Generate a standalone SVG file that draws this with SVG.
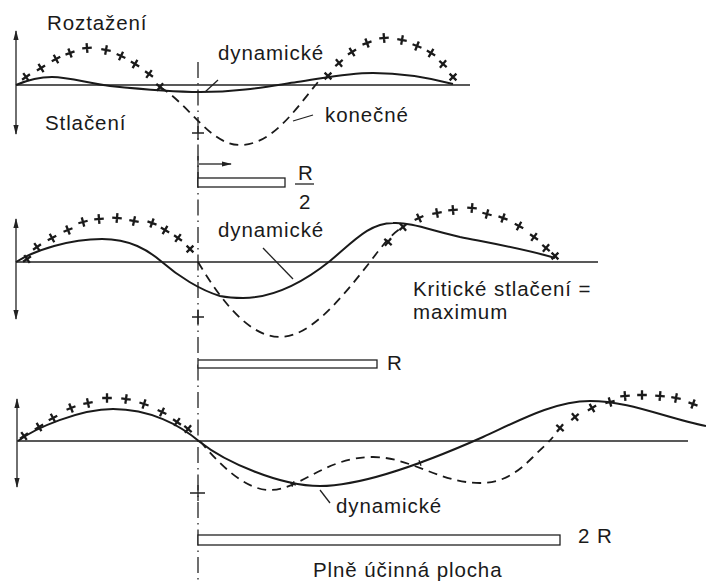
<svg xmlns="http://www.w3.org/2000/svg" width="706" height="581" viewBox="0 0 706 581">
<style>
  .bg{fill:#fff}
  .t{font-family:"Liberation Sans",Arial,sans-serif;font-size:20.5px;letter-spacing:0.9px;fill:#1a1a1a}
  .base{stroke:#222;stroke-width:1.3;fill:none}
  .axis{stroke:#222;stroke-width:1.3;fill:none}
  .dyn{stroke:#1a1a1a;stroke-width:2;fill:none}
  .fin{stroke:#1a1a1a;stroke-width:1.8;fill:none;stroke-dasharray:9 6}
  .cdot{stroke:#222;stroke-width:1.3;fill:none;stroke-dasharray:16 5 1.5 5}
  .lead{stroke:#222;stroke-width:1.3;fill:none}
  .bar{stroke:#222;stroke-width:1.3;fill:#fff}
  .xx{stroke:#1a1a1a;stroke-width:2.3;fill:none}
</style>
<defs>
  <marker id="ah" viewBox="0 0 10 10" refX="9" refY="5" markerWidth="10" markerHeight="10" orient="auto-start-reverse" markerUnits="userSpaceOnUse">
    <path d="M0,2.4 L10,5 L0,7.6 Z" fill="#222"/>
  </marker>
  <marker id="ah2" viewBox="0 0 10 10" refX="9" refY="5" markerWidth="10" markerHeight="10" orient="auto" markerUnits="userSpaceOnUse">
    <path d="M0,2.6 L10,5 L0,7.4 Z" fill="#222"/>
  </marker>
  <symbol id="x" overflow="visible"><path class="xx" d="M-4.8,0H4.8M0,-4.8V4.8"/></symbol>
  <symbol id="xs" overflow="visible"><path stroke="#1a1a1a" stroke-width="1.3" fill="none" d="M-3,0H3M0,-3V3"/></symbol>
</defs>
<rect class="bg" x="0" y="0" width="706" height="581"/>

<g id="centre-line">
  <path class="cdot" d="M198,62V581"/>
  <path class="base" d="M192,133H204M198,126V140M192,317H204M198,310V324M190,493H205M198,485V501"/>
</g>

<g id="panel-top">
  <path class="axis" d="M16,31V134" marker-start="url(#ah)" marker-end="url(#ah)"/>
  <path class="base" d="M16,85H470"/>
  <path class="dyn" d="M16,85 C30,79 40,77 52,77 C70,77 90,84 110,86 C140,89 170,92 200,92 C240,92 270,86 297,82 C320,79 345,73 373,73 C405,73 430,78 453,84"/>
  <path class="fin" d="M160,87 C190,105 210,145 240,145 C272,145 295,110 318,82"/>
  <g id="crosses-top">
    <use href="#x" transform="translate(26,77) rotate(-35)"/>
    <use href="#x" transform="translate(41,68) rotate(-32)"/>
    <use href="#x" transform="translate(56,59) rotate(-28)"/>
    <use href="#x" transform="translate(70,53) rotate(-20)"/>
    <use href="#x" transform="translate(87,48) rotate(-5)"/>
    <use href="#x" transform="translate(106,50) rotate(10)"/>
    <use href="#x" transform="translate(121,56) rotate(25)"/>
    <use href="#x" transform="translate(135,64) rotate(30)"/>
    <use href="#x" transform="translate(149,74) rotate(35)"/>
    <use href="#x" transform="translate(160,87) rotate(40)"/>
    <use href="#x" transform="translate(328,76) rotate(-45)"/>
    <use href="#x" transform="translate(339,63) rotate(-40)"/>
    <use href="#x" transform="translate(352,52) rotate(-32)"/>
    <use href="#x" transform="translate(367,43) rotate(-20)"/>
    <use href="#x" transform="translate(384,38) rotate(-5)"/>
    <use href="#x" transform="translate(402,40) rotate(10)"/>
    <use href="#x" transform="translate(417,46) rotate(22)"/>
    <use href="#x" transform="translate(431,53) rotate(30)"/>
    <use href="#x" transform="translate(443,64) rotate(40)"/>
    <use href="#x" transform="translate(453,77) rotate(45)"/>
  </g>
  <text class="t" x="47" y="30">Roztažení</text>
  <text class="t" x="45" y="130">Stlačení</text>
  <text class="t" x="218" y="60">dynamické</text>
  <text class="t" x="325" y="122">konečné</text>
</g>

<g id="bar-half">
  <path class="base" d="M198,156V187"/>
  <path class="base" d="M199,164H231" marker-end="url(#ah2)"/>
  <rect class="bar" x="198" y="178" width="87" height="9"/>
  <text class="t" x="298" y="180">R</text>
  <path class="base" d="M295,184H314"/>
  <text class="t" x="299" y="209">2</text>
</g>

<g id="panel-middle">
  <path class="axis" d="M16,219V319" marker-start="url(#ah)" marker-end="url(#ah)"/>
  <path class="base" d="M16,262H598"/>
  <path class="dyn" d="M16,262 C35,250 70,239 102,239 C130,239 148,250 162,262 C178,276 200,290 220,296 C230,298 236,298 243,298 C270,298 300,285 330,261 C355,240 370,223 393,223 C410,222 430,230 460,237 C490,243 525,249 555,258"/>
  <path class="fin" d="M198,262 C215,290 245,337 280,337 C310,337 340,300 370,262 C382,246 392,233 403,227"/>
  <g id="crosses-middle">
    <use href="#x" transform="translate(27,259) rotate(-35)"/>
    <use href="#x" transform="translate(37,247) rotate(-35)"/>
    <use href="#x" transform="translate(52,238) rotate(-28)"/>
    <use href="#x" transform="translate(68,230) rotate(-22)"/>
    <use href="#x" transform="translate(83,222) rotate(-15)"/>
    <use href="#x" transform="translate(99,219) rotate(-5)"/>
    <use href="#x" transform="translate(117,218) rotate(5)"/>
    <use href="#x" transform="translate(134,221) rotate(12)"/>
    <use href="#x" transform="translate(152,223) rotate(20)"/>
    <use href="#x" transform="translate(165,230) rotate(30)"/>
    <use href="#x" transform="translate(178,238) rotate(35)"/>
    <use href="#x" transform="translate(190,249) rotate(45)"/>
    <use href="#x" transform="translate(388,242) rotate(-50)"/>
    <use href="#x" transform="translate(403,227) rotate(-40)"/>
    <use href="#x" transform="translate(419,218) rotate(-25)"/>
    <use href="#x" transform="translate(437,213) rotate(-10)"/>
    <use href="#x" transform="translate(453,210) rotate(-5)"/>
    <use href="#x" transform="translate(472,208) rotate(5)"/>
    <use href="#x" transform="translate(487,214) rotate(15)"/>
    <use href="#x" transform="translate(503,218) rotate(20)"/>
    <use href="#x" transform="translate(519,226) rotate(28)"/>
    <use href="#x" transform="translate(534,237) rotate(35)"/>
    <use href="#x" transform="translate(546,248) rotate(40)"/>
    <use href="#x" transform="translate(555,256) rotate(45)"/>
  </g>
  <text class="t" x="218" y="237">dynamické</text>
  <text class="t" x="413" y="296">Kritické stlačení =</text>
  <text class="t" x="413" y="319">maximum</text>
</g>

<g id="bar-one">
  <rect class="bar" x="198" y="360" width="179" height="8"/>
  <text class="t" x="387" y="370">R</text>
</g>

<g id="panel-bottom">
  <path class="axis" d="M17,399V487" marker-start="url(#ah)" marker-end="url(#ah)"/>
  <path class="base" d="M17,441H688"/>
  <path class="dyn" d="M18,441 C35,428 80,409 113,409 C150,409 180,425 200,442 C225,462 280,486 320,486 C360,486 420,465 483,437 C520,420 555,401 590,401 C630,401 665,418 706,426"/>
  <path class="fin" d="M200,441 C220,465 245,490 270,490 C300,490 325,457 373,457 C410,457 440,483 480,483 C505,483 520,470 533,457 C542,448 548,443 553,437"/>
  <g id="crosses-bottom">
    <use href="#x" transform="translate(24,436) rotate(-35)"/>
    <use href="#x" transform="translate(39,427) rotate(-30)"/>
    <use href="#x" transform="translate(53,418) rotate(-28)"/>
    <use href="#x" transform="translate(71,408) rotate(-22)"/>
    <use href="#x" transform="translate(88,403) rotate(-12)"/>
    <use href="#x" transform="translate(107,398) rotate(0)"/>
    <use href="#x" transform="translate(126,399) rotate(8)"/>
    <use href="#x" transform="translate(144,404) rotate(18)"/>
    <use href="#x" transform="translate(162,412) rotate(25)"/>
    <use href="#x" transform="translate(177,422) rotate(35)"/>
    <use href="#x" transform="translate(188,429) rotate(40)"/>
    <use href="#x" transform="translate(560,428) rotate(-50)"/>
    <use href="#x" transform="translate(575,417) rotate(-40)"/>
    <use href="#x" transform="translate(592,408) rotate(-30)"/>
    <use href="#x" transform="translate(610,402) rotate(-15)"/>
    <use href="#x" transform="translate(625,396) rotate(-5)"/>
    <use href="#x" transform="translate(642,395) rotate(0)"/>
    <use href="#x" transform="translate(660,396) rotate(5)"/>
    <use href="#x" transform="translate(676,398) rotate(10)"/>
    <use href="#x" transform="translate(693,404) rotate(20)"/>
    <use href="#xs" transform="translate(293,484) rotate(20)"/>
    <use href="#xs" transform="translate(420,463) rotate(-20)"/>
  </g>
  <text class="t" x="336" y="513">dynamické</text>
</g>

<g id="bar-two">
  <rect class="bar" x="198" y="535" width="362" height="10"/>
  <text class="t" x="578" y="543">2 R</text>
  <text class="t" x="313" y="577">Plně účinná plocha</text>
</g>

<g id="connectors">
  <path class="lead" d="M218,80L205,92"/>
  <path class="lead" d="M313,115L293,121"/>
  <path class="lead" d="M263,248L293,279"/>
  <path class="lead" d="M320,490L330,503"/>
</g>
</svg>
